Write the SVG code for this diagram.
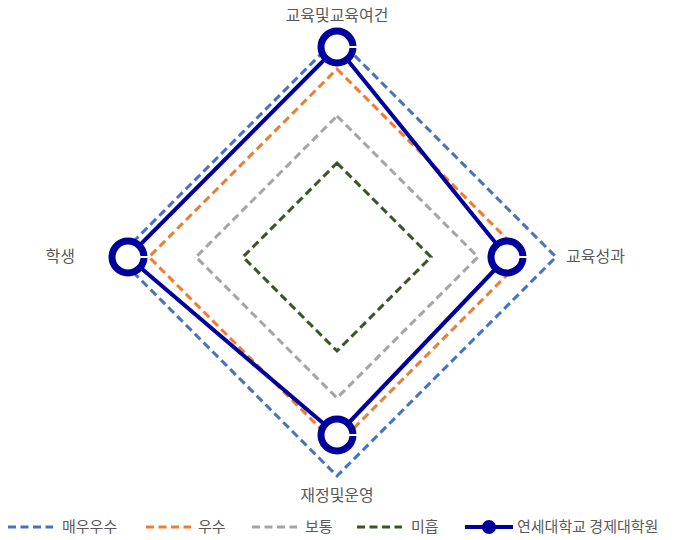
<svg xmlns="http://www.w3.org/2000/svg" width="675" height="540" viewBox="0 0 675 540">
<style>
.lbl{font-family:"Noto Sans CJK KR","Noto Sans",sans-serif;font-size:15px;fill:#595959}
.ax{font-size:16px}
.s{fill:none;stroke-width:3;stroke-dasharray:8 4.5;stroke-linejoin:miter}
.b{stroke:#4472C4}.o{stroke:#ED7D31}.g{stroke:#A5A5A5}.d{stroke:#375623}
.nv{fill:none;stroke:#00009C;stroke-width:4;stroke-linejoin:round}
.mk{fill:#fff;stroke:#00009C;stroke-width:7}
.cut{stroke:#fff;stroke-width:2}
</style>
<rect width="675" height="540" fill="#fff"/>
<g id="connectors">
<polygon class="s b" points="337,38 556,257 337,476 118,257"/>
<polygon class="s o" points="337,69 525,257 337,445 149,257"/>
<polygon class="s g" points="337,116 478,257 337,398 196,257"/>
<polygon class="s d" points="337,163 431,257 337,351 243,257"/>
<polygon class="nv" points="337,47 507,257 337,435 128,257"/>
</g>
<g id="marker-top"><circle class="mk" cx="337" cy="47" r="16"/><line class="cut" x1="340" y1="47" x2="360" y2="47"/></g>
<g id="marker-right"><circle class="mk" cx="507" cy="257" r="16"/><line class="cut" x1="510" y1="257" x2="530" y2="257"/></g>
<g id="marker-bottom"><circle class="mk" cx="337" cy="435" r="16"/><line class="cut" x1="340" y1="435" x2="360" y2="435"/></g>
<g id="marker-left"><circle class="mk" cx="128" cy="257" r="16"/><line class="cut" x1="131" y1="257" x2="151" y2="257"/></g>
<g id="axis-labels">
<text class="lbl ax" x="337" y="21" text-anchor="middle">교육및교육여건</text>
<text class="lbl ax" x="566" y="262">교육성과</text>
<text class="lbl ax" x="337" y="501" text-anchor="middle">재정및운영</text>
<text class="lbl ax" x="75" y="262" text-anchor="end">학생</text>
</g>
<g id="legend">
<line class="s b" x1="8" y1="527" x2="53" y2="527"/>
<text class="lbl" x="62" y="532">매우우수</text>
<line class="s o" x1="146" y1="527" x2="191" y2="527"/>
<text class="lbl" x="198" y="532">우수</text>
<line class="s g" x1="252" y1="527" x2="297" y2="527"/>
<text class="lbl" x="305" y="532">보통</text>
<line class="s d" x1="357" y1="527" x2="402" y2="527"/>
<text class="lbl" x="411" y="532">미흡</text>
<line stroke="#00009C" stroke-width="4" x1="465" y1="527" x2="513" y2="527"/>
<circle cx="489" cy="527" r="7" fill="#00009C"/>
<text class="lbl" x="517" y="532">연세대학교 경제대학원</text>
</g>
</svg>
